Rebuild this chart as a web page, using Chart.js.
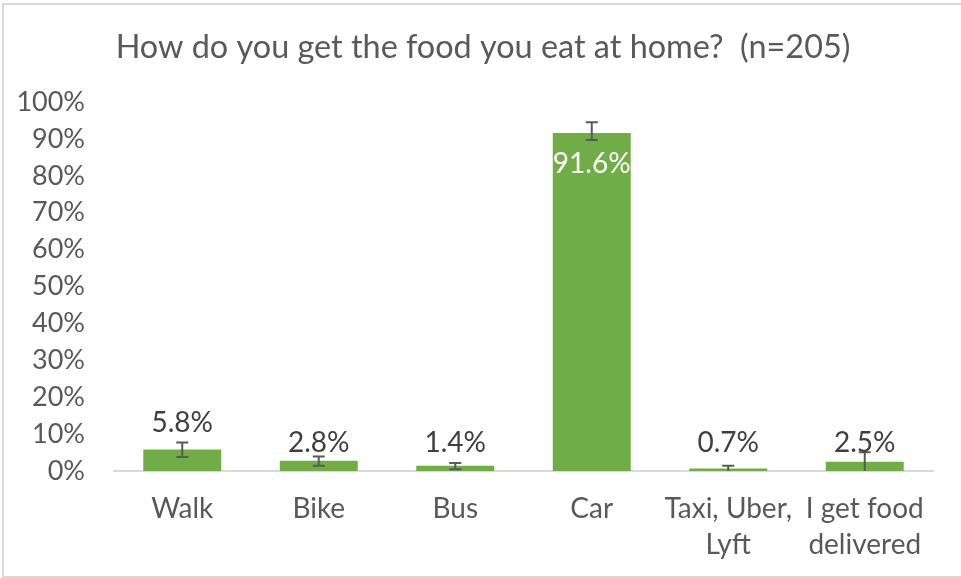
<!DOCTYPE html>
<html>
<head>
<meta charset="utf-8">
<script src="https://cdn.jsdelivr.net/npm/chart.js@4.4.1/dist/chart.umd.min.js"></script>
<style>
  html, body { margin: 0; padding: 0; background: #ffffff; }
  #wrap { width: 961px; height: 578px; position: relative; }
</style>
</head>
<body>
<div id="wrap"><canvas id="c"></canvas></div>
<script>
const categories = ["Walk", "Bike", "Bus", "Car", ["Taxi, Uber,", "Lyft"], ["I get food", "delivered"]];
const percentages = [5.8, 2.8, 1.4, 91.6, 0.7, 2.5];
const errorLow = [3.8, 1.4, 0.5, 89.7, 0.0, 0.0];
const errorHigh = [7.7, 3.9, 2.2, 94.5, 1.4, 5.1];
const yTicks = [0, 10, 20, 30, 40, 50, 60, 70, 80, 90, 100];
const titleText = "How do you get the food you eat at home?  (n=205)";

const FONT = "Lato, 'Open Sans', sans-serif";
const TXT = "#595959";

const borderPlugin = {
  id: "outerBorder",
  beforeDraw(chart) {
    const ctx = chart.ctx;
    ctx.save();
    ctx.fillStyle = "#ffffff";
    ctx.fillRect(0, 0, chart.width, chart.height);
    ctx.strokeStyle = "#d9d9d9";
    ctx.lineWidth = 2;
    ctx.strokeRect(3, 4, chart.width + 10, chart.height - 5);
    // title
    ctx.fillStyle = TXT;
    ctx.font = "32.4px " + FONT;
    ctx.textAlign = "center";
    ctx.textBaseline = "middle";
    ctx.fillText(titleText, 483, 48);
    ctx.restore();
  }
};

const errorBarPlugin = {
  id: "errorBars",
  afterDatasetsDraw(chart) {
    const ctx = chart.ctx;
    const y = chart.scales.y;
    const meta = chart.getDatasetMeta(0);
    ctx.save();
    ctx.strokeStyle = "#595959";
    ctx.lineWidth = 2;
    meta.data.forEach((bar, i) => {
      const yl = y.getPixelForValue(errorLow[i]);
      const yh = y.getPixelForValue(errorHigh[i]);
      ctx.beginPath();
      ctx.moveTo(bar.x, yl); ctx.lineTo(bar.x, yh);
      if (errorLow[i] > 0) { ctx.moveTo(bar.x - 6, yl); ctx.lineTo(bar.x + 6, yl); }
      ctx.moveTo(bar.x - 6, yh); ctx.lineTo(bar.x + 6, yh);
      ctx.stroke();
    });
    // data labels
    ctx.font = "28px " + FONT;
    ctx.textAlign = "center";
    ctx.textBaseline = "middle";
    const zeroY = y.getPixelForValue(0);
    meta.data.forEach((bar, i) => {
      const v = percentages[i];
      const txt = v.toFixed(1) + "%";
      if (v > 50) {
        ctx.fillStyle = "#ffffff";
        ctx.fillText(txt, bar.x, bar.y + 31);
      } else {
        let cy = zeroY - 28.5;
        if (cy + 10 > bar.y) cy = y.getPixelForValue(errorHigh[i]) - 20;
        ctx.fillStyle = "#404040";
        ctx.fillText(txt, bar.x, cy);
      }
    });
    ctx.restore();
  }
};

new Chart(document.getElementById("c"), {
  type: "bar",
  data: {
    labels: categories,
    datasets: [{
      data: percentages,
      backgroundColor: "#70ad47",
      borderWidth: 0,
      barPercentage: 0.571,
      categoryPercentage: 1.0
    }]
  },
  options: {
    responsive: true,
    maintainAspectRatio: false,
    animation: false,
    layout: { padding: { left: 0, right: 28, top: 102, bottom: 0 } },
    plugins: {
      legend: { display: false },
      tooltip: { enabled: false },
      title: { display: false }
    },
    scales: {
      x: {
        grid: { display: false, drawTicks: false },
        border: { display: true, color: "#d9d9d9", width: 2 },
        ticks: {
          color: TXT,
          padding: 20,
          maxRotation: 0,
          autoSkip: false,
          font: { family: FONT, size: 28, lineHeight: 1.28 }
        },
        afterFit(scale) { scale.height = 107; }
      },
      y: {
        min: 0,
        max: 100,
        afterBuildTicks(scale) { scale.ticks = yTicks.map(v => ({ value: v })); },
        grid: { display: false, drawTicks: false },
        border: { display: false },
        ticks: {
          color: TXT,
          padding: 29,
          font: { family: FONT, size: 27 },
          callback: v => v + "%"
        },
        afterFit(scale) { scale.width = 114; }
      }
    }
  },
  plugins: [borderPlugin, errorBarPlugin]
});
</script>
</body>
</html>
